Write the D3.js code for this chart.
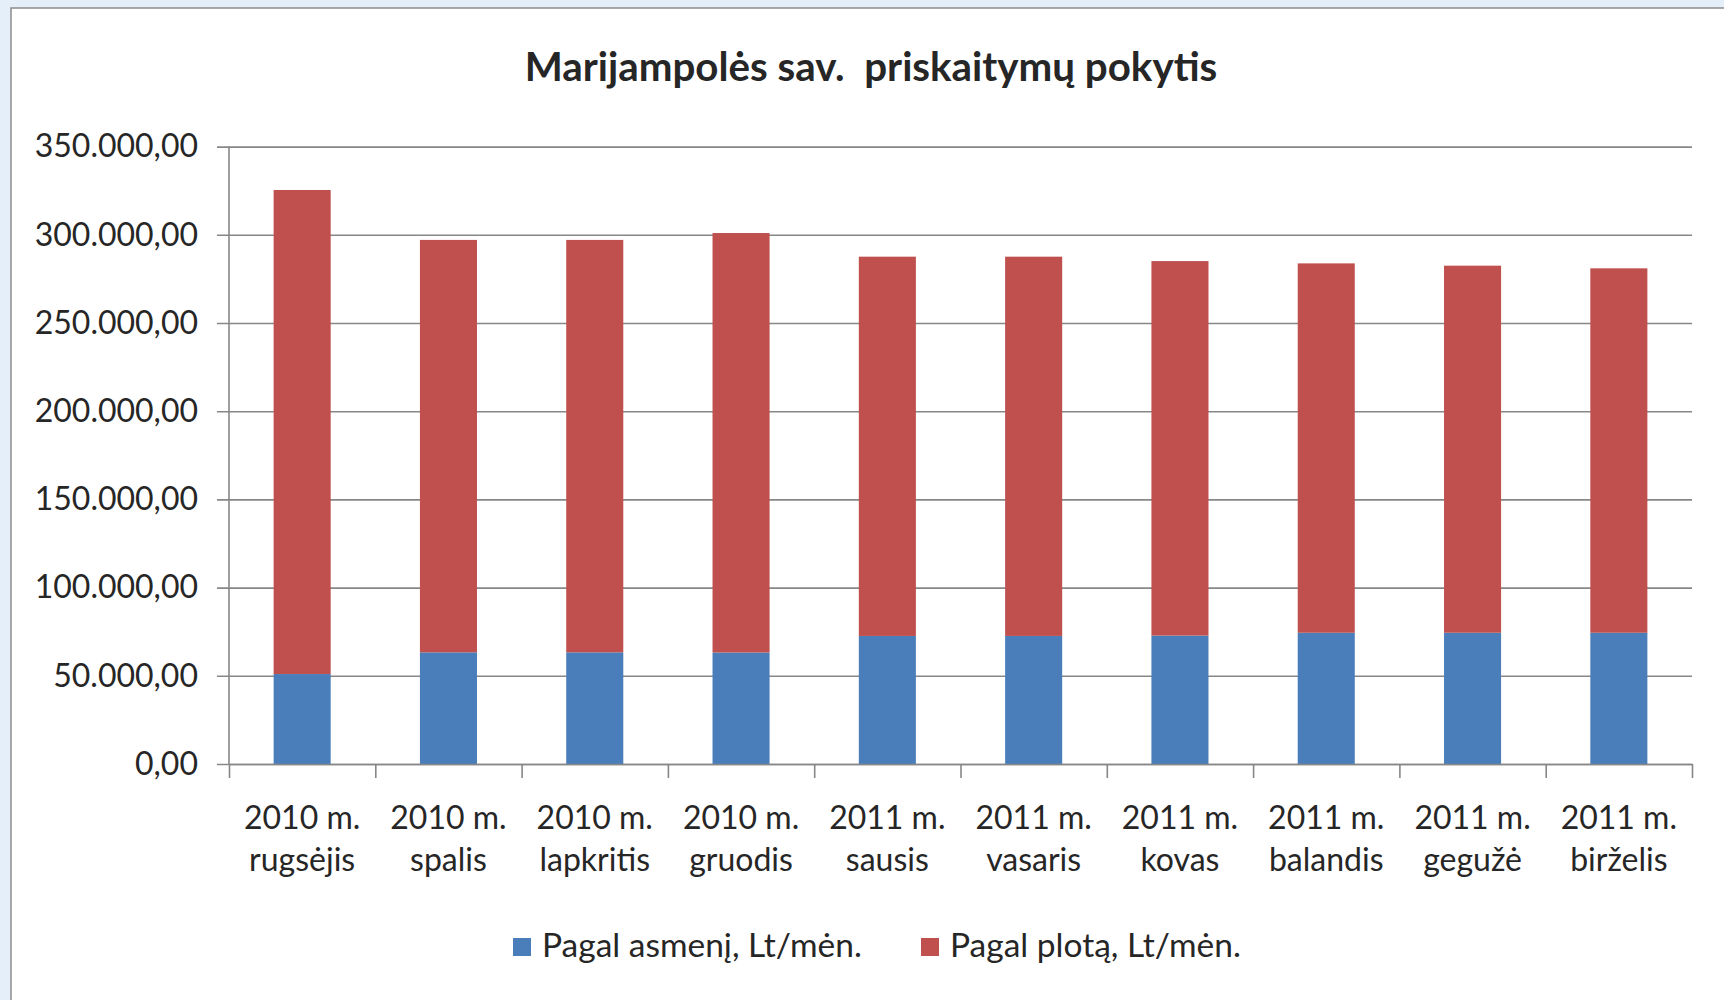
<!DOCTYPE html>
<html>
<head>
<meta charset="utf-8">
<script src="https://cdn.jsdelivr.net/npm/d3@7"></script>
<style>
  html, body { margin: 0; padding: 0; background: #e4effa; }
  svg { display: block; }
  text { font-family: Lato, "Open Sans", sans-serif; fill: #262626; }
</style>
</head>
<body>
<svg id="chart" width="1724" height="1000"></svg>
<script>
const title = "Marijampolės sav.  priskaitymų pokytis";
const yearLabels = ["2010 m.", "2010 m.", "2010 m.", "2010 m.", "2011 m.", "2011 m.", "2011 m.", "2011 m.", "2011 m.", "2011 m."];
const monthLabels = ["rugsėjis", "spalis", "lapkritis", "gruodis", "sausis", "vasaris", "kovas", "balandis", "gegužė", "birželis"];
const seriesNames = ["Pagal asmenį, Lt/mėn.", "Pagal plotą, Lt/mėn."];
const perPerson = [51000, 63300, 63300, 63200, 72600, 72600, 72800, 74400, 74400, 74400];
const perArea = [274400, 233800, 233800, 237800, 215000, 215000, 212300, 209400, 208100, 206600];
const yTicks = [0, 50000, 100000, 150000, 200000, 250000, 300000, 350000];
const colors = ["#4a7ebb", "#c0504d"];

const svg = d3.select("#chart");
// chart panel
svg.append("rect").attr("x", 11).attr("y", 8).attr("width", 1724).attr("height", 1000)
  .attr("fill", "#fff").attr("stroke", "#8c8c8c").attr("stroke-width", 1.5);

const pLeft = 229, pRight = 1692, pTop = 146.6, pBottom = 764;
const W = pRight - pLeft;
const cats = monthLabels.map((m, i) => i);

const x = d3.scaleBand().domain(cats).range([pLeft, pRight]).paddingInner(0.61).paddingOuter(0.305);
const xb = d3.scaleLinear().domain([0, cats.length]).range([pLeft, pRight]);
const y = d3.scaleLinear().domain([0, 350000]).range([pBottom, pTop]);

const fmt = v => {
  const s = d3.format(",.2f")(v);
  return s.replace(/,/g, "#").replace(".", ",").replace(/#/g, ".");
};

// gridlines + y labels
const yAxis = svg.append("g").attr("transform", `translate(${pRight},0)`)
  .call(d3.axisLeft(y).tickValues(yTicks).tickSize(W + 12).tickSizeOuter(0).tickPadding(19).tickFormat(fmt));
yAxis.select(".domain").remove();
yAxis.selectAll(".tick line").attr("stroke", "#878787").attr("stroke-width", 1.6);
yAxis.selectAll(".tick text").attr("font-size", 32).attr("fill", "#262626").attr("font-family", "Lato, sans-serif");

// bars
const stack = d3.stack().keys([0, 1])((cats.map(i => ({0: perPerson[i], 1: perArea[i], i}))));
svg.append("g").selectAll("g").data(stack).join("g")
  .attr("fill", (d, k) => colors[k])
  .selectAll("rect").data(d => d).join("rect")
  .attr("x", d => x(d.data.i))
  .attr("width", x.bandwidth())
  .attr("y", d => y(d[1]))
  .attr("height", d => y(d[0]) - y(d[1]));

// y axis line
svg.append("line").attr("x1", pLeft).attr("x2", pLeft).attr("y1", pTop).attr("y2", pBottom)
  .attr("stroke", "#878787").attr("stroke-width", 1.6);

// x axis with boundary ticks
const xAxis = svg.append("g").attr("transform", `translate(0,${pBottom})`)
  .call(d3.axisBottom(xb).tickValues(d3.range(0, cats.length + 1)).tickSize(14).tickSizeOuter(0).tickFormat(""));
xAxis.selectAll("line, path").attr("stroke", "#878787").attr("stroke-width", 1.6);

// category labels
const labels = svg.append("g").selectAll("text").data(cats).join("text")
  .attr("text-anchor", "middle").attr("font-size", 32);
labels.append("tspan").attr("x", d => x(d) + x.bandwidth() / 2).attr("y", 829).text(d => yearLabels[d]);
labels.append("tspan").attr("x", d => x(d) + x.bandwidth() / 2).attr("y", 871).text(d => monthLabels[d]);

// title
svg.append("text").attr("x", 871).attr("y", 81).attr("text-anchor", "middle")
  .style("white-space", "pre").attr("xml:space", "preserve")
  .attr("font-size", 40.3).attr("font-weight", "bold").attr("fill", "#111").text(title);

// legend
const legendX = [513, 921];
const lg = svg.append("g").selectAll("g").data(seriesNames).join("g")
  .attr("transform", (d, i) => `translate(${legendX[i]},938)`);
lg.append("rect").attr("width", 18).attr("height", 18).attr("fill", (d, i) => colors[i]);
lg.append("text").attr("x", 29).attr("y", 19).attr("font-size", 33.5).text(d => d);
</script>
</body>
</html>
